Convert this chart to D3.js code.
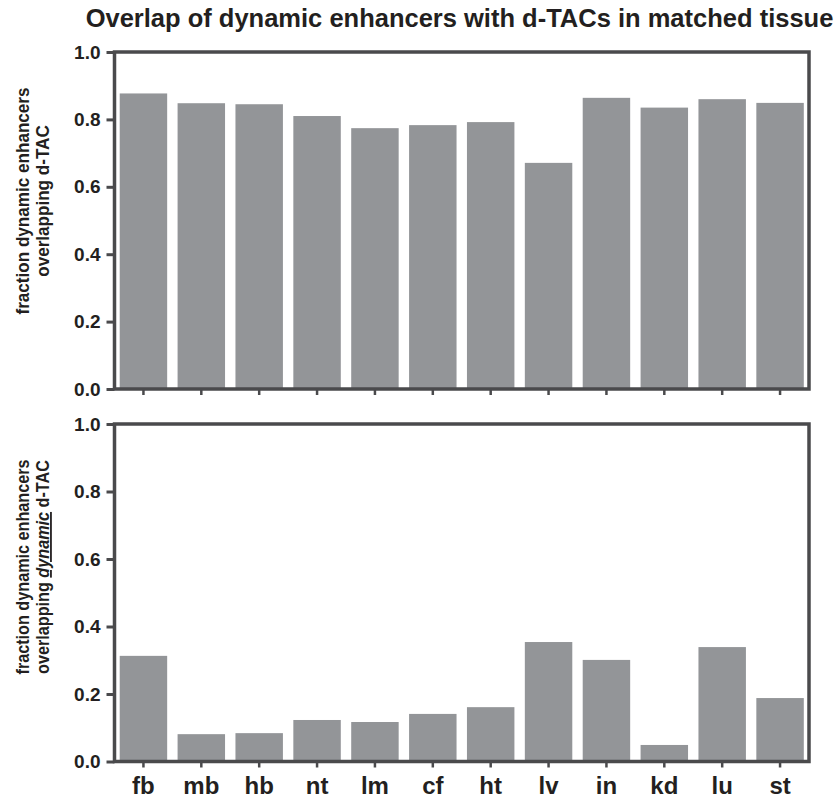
<!DOCTYPE html>
<html>
<head>
<meta charset="utf-8">
<script src="https://cdn.jsdelivr.net/npm/d3@7"></script>
<style>
  html, body { margin: 0; padding: 0; background: #ffffff; }
  svg { display: block; font-family: "Liberation Sans", Arial, Helvetica, sans-serif; }
</style>
</head>
<body>
<svg id="chart" width="839" height="799"></svg>
<script>
// ---- data ----
const categories = ["fb", "mb", "hb", "nt", "lm", "cf", "ht", "lv", "in", "kd", "lu", "st"];
const overlapAnyDTAC = [0.877, 0.848, 0.845, 0.810, 0.774, 0.783, 0.792, 0.671, 0.864, 0.835, 0.860, 0.849];
const overlapDynamicDTAC = [0.313, 0.081, 0.084, 0.123, 0.117, 0.141, 0.161, 0.354, 0.301, 0.049, 0.339, 0.188];
const yTickValues = [0.0, 0.2, 0.4, 0.6, 0.8, 1.0];
const titleText = "Overlap of dynamic enhancers with d-TACs in matched tissue";

// ---- styles ----
const barColor = "#939598";
const axisColor = "#4a4a4c";
const textColor = "#231f20";

const svg = d3.select("#chart");

const x = d3.scaleBand()
  .domain(categories)
  .range([114.5, 809])
  .paddingInner(0.18)
  .paddingOuter(0.09);

svg.append("text")
  .attr("x", 459.5)
  .attr("y", 27)
  .attr("text-anchor", "middle")
  .attr("font-size", 25.5)
  .attr("font-weight", "bold")
  .attr("fill", textColor)
  .text(titleText);

function panel(values, yRange, showLabels) {
  const y = d3.scaleLinear().domain([0, 1]).range(yRange);
  const g = svg.append("g");

  g.selectAll("rect.bar")
    .data(values)
    .join("rect")
    .attr("class", "bar")
    .attr("x", (d, i) => x(categories[i]))
    .attr("width", x.bandwidth())
    .attr("y", d => y(d))
    .attr("height", d => y(0) - y(d))
    .attr("fill", barColor);

  // y axis
  const yAxis = g.append("g")
    .attr("transform", `translate(${x.range()[0]},0)`)
    .call(d3.axisLeft(y).tickValues(yTickValues).tickFormat(d3.format(".1f")).tickSize(8).tickPadding(6));
  yAxis.select(".domain").remove();
  yAxis.selectAll(".tick line").attr("stroke", axisColor).attr("stroke-width", 3);
  yAxis.selectAll(".tick text")
    .attr("font-size", 19).attr("font-weight", "bold").attr("fill", textColor)
    .attr("font-family", "Liberation Sans, Arial, sans-serif");

  // x axis
  const xAxis = g.append("g")
    .attr("transform", `translate(0,${y(0)})`)
    .call(d3.axisBottom(x).tickSize(6).tickPadding(9.5));
  xAxis.select(".domain").remove();
  xAxis.selectAll(".tick line").attr("stroke", axisColor).attr("stroke-width", 2.5);
  if (showLabels) {
    xAxis.selectAll(".tick text")
      .attr("font-size", 24).attr("font-weight", "bold").attr("fill", textColor)
      .attr("font-family", "Liberation Sans, Arial, sans-serif");
  } else {
    xAxis.selectAll(".tick text").remove();
  }

  // frame
  g.append("rect")
    .attr("x", x.range()[0])
    .attr("y", y(1))
    .attr("width", x.range()[1] - x.range()[0])
    .attr("height", y(0) - y(1))
    .attr("fill", "none")
    .attr("stroke", axisColor)
    .attr("stroke-width", 3.5);
  return y;
}

const yTop = panel(overlapAnyDTAC, [389, 52], false);
const yBot = panel(overlapDynamicDTAC, [761.5, 424], true);

// y-axis titles
function yTitle(cy, size, line1, line2parts) {
  const t = svg.append("text")
    .attr("transform", `translate(0,${cy}) rotate(-90) scale(0.9,1)`)
    .attr("text-anchor", "middle")
    .attr("font-size", size)
    .attr("font-weight", "bold")
    .attr("fill", textColor);
  t.append("tspan").attr("x", 0).attr("y", 29).text(line1);
  const l2 = t.append("tspan").attr("x", 0).attr("y", 49);
  line2parts.forEach(p => {
    const s = l2.append("tspan").text(p.text);
    if (p.em) s.attr("font-style", "italic").attr("text-decoration", "underline");
  });
}
yTitle(201, 19, "fraction dynamic enhancers", [{text: "overlapping d-TAC"}]);
yTitle(567, 18, "fraction dynamic enhancers", [{text: "overlapping "}, {text: "dynamic", em: true}, {text: " d-TAC"}]);
</script>
</body>
</html>
